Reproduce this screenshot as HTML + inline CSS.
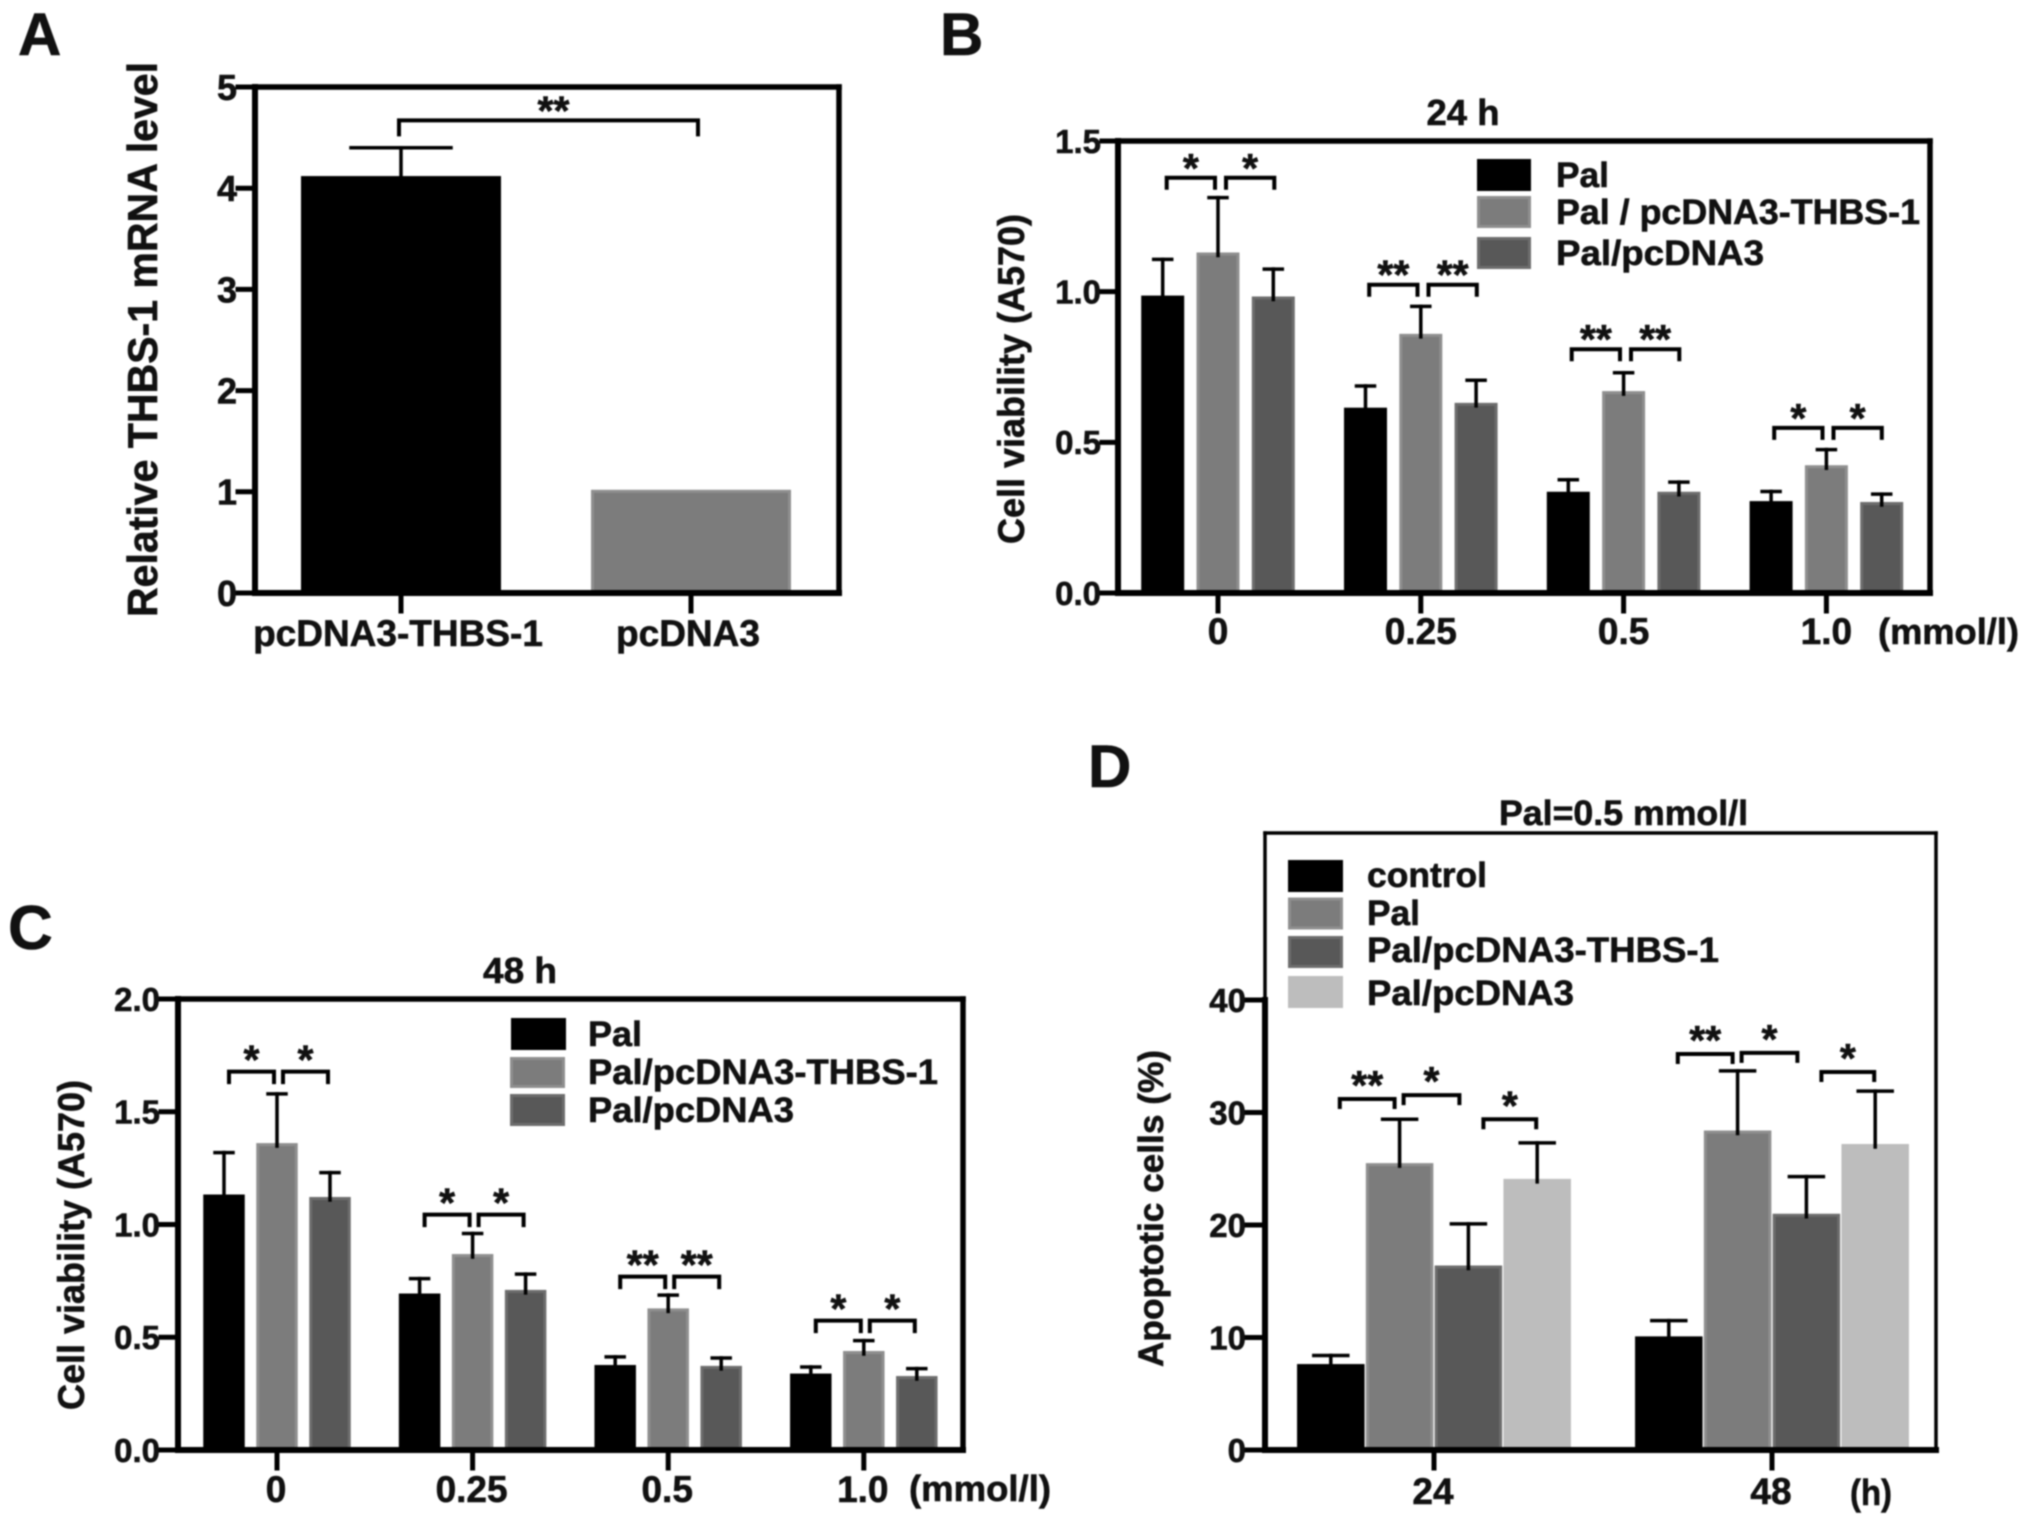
<!DOCTYPE html>
<html lang="en">
<head>
<meta charset="utf-8">
<title>THBS-1 figure panels</title>
<style>
html,body{margin:0;padding:0;background:#fff;width:2031px;height:1522px;overflow:hidden}
svg{display:block;filter:blur(.9px)}
text{font-family:"Liberation Sans",Arial,sans-serif;font-weight:bold;fill:#111;stroke:#111;stroke-width:.6px}
</style>
</head>
<body>
<svg id="figure" xmlns="http://www.w3.org/2000/svg" width="2031" height="1522" viewBox="0 0 2031 1522">
  <rect x="0" y="0" width="2031" height="1522" fill="#fff"/>

  <g id="panel-a">
    <text x="18" y="55" font-size="60">A</text>
    <text transform="translate(157,617) rotate(-90)" font-size="42" textLength="555" lengthAdjust="spacingAndGlyphs">Relative THBS-1 mRNA level</text>
  </g>

  <g id="panel-b">
    <text x="940" y="55" font-size="60">B</text>
    <text x="1463" y="125" font-size="36" text-anchor="middle" textLength="73" lengthAdjust="spacingAndGlyphs">24 h</text>
    <text transform="translate(1024,544) rotate(-90)" font-size="37" textLength="330" lengthAdjust="spacingAndGlyphs">Cell viability (A570)</text>
    <text x="1878" y="644" font-size="36" textLength="141" lengthAdjust="spacingAndGlyphs">(mmol/l)</text>
    <g transform="translate(-3,0)">
      <rect x="1480" y="159" width="54" height="32" fill="#000"/>
      <rect x="1481.5" y="197.5" width="51" height="29" fill="#7c7c7c" stroke="#8f8f8f" stroke-width="3"/>
      <rect x="1481.5" y="238.5" width="51" height="29" fill="#585858" stroke="#6d6d6d" stroke-width="3"/>
      <text x="1559" y="187" font-size="35" textLength="53" lengthAdjust="spacingAndGlyphs">Pal</text>
      <text x="1559" y="224" font-size="35" textLength="364" lengthAdjust="spacingAndGlyphs">Pal / pcDNA3-THBS-1</text>
      <text x="1559" y="265" font-size="35" textLength="208" lengthAdjust="spacingAndGlyphs">Pal/pcDNA3</text>
    </g>
  </g>

  <g id="panel-c">
    <text x="8" y="949" font-size="62">C</text>
    <text x="520" y="983" font-size="36" text-anchor="middle" textLength="74" lengthAdjust="spacingAndGlyphs">48 h</text>
    <text transform="translate(84,1410) rotate(-90)" font-size="37" textLength="330" lengthAdjust="spacingAndGlyphs">Cell viability (A570)</text>
    <text x="909" y="1501" font-size="36" textLength="142" lengthAdjust="spacingAndGlyphs">(mmol/l)</text>
    <g transform="translate(-2,0)">
      <rect x="513" y="1018" width="55" height="32" fill="#000"/>
      <rect x="513.5" y="1058.5" width="52" height="28" fill="#7c7c7c" stroke="#8f8f8f" stroke-width="3"/>
      <rect x="513.5" y="1095.5" width="52" height="29" fill="#585858" stroke="#6d6d6d" stroke-width="3"/>
      <text x="590" y="1046" font-size="35" textLength="54" lengthAdjust="spacingAndGlyphs">Pal</text>
      <text x="590" y="1084" font-size="35" textLength="350" lengthAdjust="spacingAndGlyphs">Pal/pcDNA3-THBS-1</text>
      <text x="590" y="1122" font-size="35" textLength="206" lengthAdjust="spacingAndGlyphs">Pal/pcDNA3</text>
    </g>
  </g>

  <g id="panel-d">
    <text x="1088" y="787" font-size="60">D</text>
    <text x="1499" y="825" font-size="35" textLength="249" lengthAdjust="spacingAndGlyphs">Pal=0.5 mmol/l</text>
    <text transform="translate(1163,1367) rotate(-90)" font-size="35" textLength="317" lengthAdjust="spacingAndGlyphs">Apoptotic cells (%)</text>
    <text x="1850" y="1505" font-size="36" textLength="42" lengthAdjust="spacingAndGlyphs">(h)</text>
    <g transform="translate(-2,0)">
      <rect x="1290" y="860" width="55" height="32" fill="#000"/>
      <rect x="1291.5" y="899" width="52" height="29" fill="#7c7c7c" stroke="#8f8f8f" stroke-width="3"/>
      <rect x="1291.5" y="937.5" width="52" height="29" fill="#585858" stroke="#6d6d6d" stroke-width="3"/>
      <rect x="1290" y="976" width="55" height="32" fill="#bdbdbd"/>
      <text x="1369" y="887" font-size="35" textLength="120" lengthAdjust="spacingAndGlyphs">control</text>
      <text x="1369" y="925" font-size="35" textLength="53" lengthAdjust="spacingAndGlyphs">Pal</text>
      <text x="1369" y="962" font-size="35" textLength="352" lengthAdjust="spacingAndGlyphs">Pal/pcDNA3-THBS-1</text>
      <text x="1369" y="1005" font-size="35" textLength="207" lengthAdjust="spacingAndGlyphs">Pal/pcDNA3</text>
    </g>
  </g>
</svg>

<script>
// ---- Panel A data ----
const aCategories = ['pcDNA3-THBS-1', 'pcDNA3'];
const aValues = [4.12, 1.02];
const aErrors = [0.28, 0];
const aYTicks = [0, 1, 2, 3, 4, 5];
const aBracketLevel = 4.67;
const aBracketLabel = '**';

// ---- Panel B data (24 h) ----
const bCategories = ['0', '0.25', '0.5', '1.0'];
const bPal = [0.987, 0.615, 0.336, 0.305];
const bPalThbs = [1.13, 0.86, 0.67, 0.424];
const bPalPc = [0.984, 0.631, 0.336, 0.302];
const bPalErr = [0.12, 0.072, 0.04, 0.032];
const bPalThbsErr = [0.182, 0.091, 0.061, 0.052];
const bPalPcErr = [0.091, 0.075, 0.032, 0.026];
const bYTicks = ['0.0', '0.5', '1.0', '1.5'];
const bBracketLevels = [[1.378, 1.378], [1.023, 1.023], [0.809, 0.809], [0.548, 0.548]];
const bBracketLabels = [['*', '*'], ['**', '**'], ['**', '**'], ['*', '*']];

// ---- Panel C data (48 h) ----
const cCategories = ['0', '0.25', '0.5', '1.0'];
const cPal = [1.133, 0.694, 0.377, 0.339];
const cPalThbs = [1.361, 0.869, 0.628, 0.439];
const cPalPc = [1.122, 0.71, 0.373, 0.328];
const cPalErr = [0.186, 0.066, 0.036, 0.029];
const cPalThbsErr = [0.218, 0.091, 0.059, 0.046];
const cPalPcErr = [0.108, 0.07, 0.035, 0.033];
const cYTicks = ['0.0', '0.5', '1.0', '1.5', '2.0'];
const cBracketLevels = [[1.678, 1.678], [1.044, 1.044], [0.769, 0.769], [0.574, 0.574]];
const cBracketLabels = [['*', '*'], ['*', '*'], ['**', '**'], ['*', '*']];

// ---- Panel D data (Pal = 0.5 mmol/l) ----
const dCategories = ['24', '48'];
const dControl = [7.64, 10.1];
const dPal = [25.5, 28.4];
const dPalThbs = [16.4, 21.0];
const dPalPc = [24.1, 27.2];
const dControlErr = [0.76, 1.4];
const dPalErr = [3.9, 5.3];
const dPalThbsErr = [3.7, 3.3];
const dPalPcErr = [3.2, 4.7];
const dYTicks = ['0', '10', '20', '30', '40'];
const dBracketLevels = [[31.2, 31.55, 29.4], [35.2, 35.3, 33.6]];
const dBracketLabels = [['**', '*', '*'], ['**', '*', '*']];

const SVGNS = 'http://www.w3.org/2000/svg';
const BLACK = {fill: '#000', edge: null};
const GRAY = {fill: '#7c7c7c', edge: '#8f8f8f'};
const DARK = {fill: '#585858', edge: '#6d6d6d'};
const LIGHT = {fill: '#bdbdbd', edge: null};

function make(parent, tag, props, name, content) {
  const el = document.createElementNS(SVGNS, tag);
  for (const k in props) el.setAttribute(k, props[k]);
  
  
  if (content !== undefined) el.textContent = content;
  parent.appendChild(el);
  return el;
}
function line(parent, x1, y1, x2, y2, w, name) {
  return make(parent, 'line', {x1: x1, y1: y1, x2: x2, y2: y2, stroke: '#000', 'stroke-width': w, 'stroke-linecap': 'square'}, name);
}

function drawPanel(p) {
  const root = document.getElementById(p.id);
  const yScale = v => p.yZero - (v / p.yMax) * (p.yZero - p.yMaxPx);
  const xScale = g => p.xFirst + g * p.xStep;
  const barCenter = (g, s) => xScale(g) + (s - (p.seriesCount - 1) / 2) * p.barStep;

  // bars first
  const bars = make(root, 'g', {}, 'bars-' + p.key);
  p.categories.forEach((cat, g) => {
    p.series.forEach((vals, s) => {
      const col = p.colors(g, s);
      const cx = barCenter(g, s), top = yScale(vals[g]);
      const inset = col.edge ? 1.5 : 0;
      const r = make(bars, 'rect', {
        x: cx - p.barWidth / 2 + inset, y: top + inset,
        width: p.barWidth - 2 * inset, height: Math.max(0, p.yZero - top - inset),
        fill: col.fill
      }, 'bar-' + p.key + '-' + g + '-' + s);
      if (col.edge) {
        r.setAttribute('stroke', col.edge);
        r.setAttribute('stroke-width', 3);
      }
    });
  });

  // error bars
  const errs = make(root, 'g', {}, 'error-bars-' + p.key);
  p.categories.forEach((cat, g) => {
    p.errors.forEach((vals, s) => {
      if (!vals[g]) return;
      const cx = barCenter(g, s), top = yScale(p.series[s][g]), hi = yScale(p.series[s][g] + vals[g]);
      line(errs, cx, top + 3, cx, hi, 3.5, 'error-stem-' + p.key + '-' + g + '-' + s);
      line(errs, cx - p.capWidth / 2, hi, cx + p.capWidth / 2, hi, 3.5, 'error-cap-' + p.key + '-' + g + '-' + s);
    });
  });

  // frame and axes
  const frame = make(root, 'g', {}, 'axes-' + p.key);
  const tw = p.topWidth;
  line(frame, p.xLeft, p.yTop, p.xRight, p.yTop, tw, 'frame-top-' + p.key);
  line(frame, p.xRight, p.yTop, p.xRight, p.yZero, tw, 'frame-right-' + p.key);
  if (p.yMaxPx !== p.yTop) line(frame, p.xLeft, p.yTop, p.xLeft, p.yMaxPx, tw, 'frame-left-upper-' + p.key);
  line(frame, p.xLeft, p.yMaxPx, p.xLeft, p.yZero, 6, 'y-axis-' + p.key);
  line(frame, p.xLeft, p.yZero, p.xRight, p.yZero, 6, 'x-axis-' + p.key);

  // y ticks
  p.yTicks.forEach(label => {
    const v = parseFloat(label), y = yScale(v);
    line(frame, p.tickLeft, y, p.xLeft, y, 5, 'y-tick-' + p.key + '-' + label);
    make(root, 'text', {x: p.tickLeft - 1, y: y + p.yFont * 0.358, 'font-size': p.yFont, 'text-anchor': 'end'}, 'y-tick-label-' + p.key + '-' + label, String(label));
  });

  // x ticks
  p.categories.forEach((cat, g) => {
    const x = xScale(g);
    line(frame, x, p.yZero, x, p.yZero + 18, 5, 'x-tick-' + p.key + '-' + g);
    make(root, 'text', {x: x + p.xLabelDx, y: p.xLabelY, 'font-size': p.xFont, 'text-anchor': 'middle'}, 'x-tick-label-' + p.key + '-' + g, cat);
  });

  // significance brackets
  const br = make(root, 'g', {}, 'brackets-' + p.key);
  p.brackets.forEach(b => {
    const y = yScale(b.level);
    make(br, 'path', {
      d: 'M' + b.x1 + ' ' + (y + p.drop) + 'V' + y + 'H' + b.x2 + 'V' + (y + p.drop),
      fill: 'none', stroke: '#000', 'stroke-width': 4
    }, 'significance-bracket-' + p.key);
    make(br, 'text', {x: (b.x1 + b.x2) / 2 + p.starDx, y: y + p.starOffset, 'font-size': 41, 'text-anchor': 'middle'}, 'significance-mark-' + p.key, b.label);
  });
}

function groupedBrackets(levels, labels, insets, first, step, barStep, count) {
  const out = [];
  levels.forEach((row, g) => row.forEach((level, i) => {
    const c = s => first + g * step + (s - (count - 1) / 2) * barStep;
    out.push({level: level, label: labels[g][i], x1: c(i) + insets[i][0], x2: c(i + 1) + insets[i][1]});
  }));
  return out;
}

drawPanel({
  id: 'panel-a', key: 'a', categories: aCategories,
  series: [aValues], errors: [aErrors], seriesCount: 1,
  colors: g => (g === 0 ? BLACK : GRAY),
  xLeft: 255, xRight: 839, yTop: 87, yZero: 593, yMaxPx: 87, yMax: 5, topWidth: 5.5,
  xFirst: 401, xStep: 290, barStep: 0, barWidth: 200, capWidth: 100,
  tickLeft: 238, yTicks: aYTicks, yFont: 36, xFont: 37, xLabelY: 646, xLabelDx: -3,
  drop: 16, starOffset: 4, starDx: 5,
  brackets: [{level: aBracketLevel, label: aBracketLabel, x1: 399, x2: 698}]
});

drawPanel({
  id: 'panel-b', key: 'b', categories: bCategories,
  series: [bPal, bPalThbs, bPalPc], errors: [bPalErr, bPalThbsErr, bPalPcErr], seriesCount: 3,
  colors: (g, s) => [BLACK, GRAY, DARK][s],
  xLeft: 1118, xRight: 1930, yTop: 141, yZero: 593, yMaxPx: 141, yMax: 1.5, topWidth: 5.5,
  xFirst: 1218, xStep: 202.8, barStep: 55.3, barWidth: 43, capWidth: 18,
  tickLeft: 1102, yTicks: bYTicks, yFont: 33, xFont: 37, xLabelY: 644, xLabelDx: 0,
  drop: 12, starOffset: 4, starDx: 0,
  brackets: groupedBrackets(bBracketLevels, bBracketLabels, [[4, -3], [8, 1]], 1218, 202.5, 55.3, 3)
});

drawPanel({
  id: 'panel-c', key: 'c', categories: cCategories,
  series: [cPal, cPalThbs, cPalPc], errors: [cPalErr, cPalThbsErr, cPalPcErr], seriesCount: 3,
  colors: (g, s) => [BLACK, GRAY, DARK][s],
  xLeft: 178, xRight: 963, yTop: 999, yZero: 1450, yMaxPx: 999, yMax: 2, topWidth: 5.5,
  xFirst: 277, xStep: 195.6, barStep: 53, barWidth: 41.5, capWidth: 18,
  tickLeft: 161, yTicks: cYTicks, yFont: 33, xFont: 37, xLabelY: 1502, xLabelDx: -1,
  drop: 12.5, starOffset: 2, starDx: 0,
  brackets: groupedBrackets(cBracketLevels, cBracketLabels, [[5, -3], [6, -2]], 277, 195.6, 53, 3)
});

drawPanel({
  id: 'panel-d', key: 'd', categories: dCategories,
  series: [dControl, dPal, dPalThbs, dPalPc], errors: [dControlErr, dPalErr, dPalThbsErr, dPalPcErr], seriesCount: 4,
  colors: (g, s) => [BLACK, GRAY, DARK, LIGHT][s],
  xLeft: 1265, xRight: 1936, yTop: 833, yZero: 1450, yMaxPx: 1000, yMax: 40, topWidth: 3.5,
  xFirst: 1434, xStep: 338, barStep: 68.8, barWidth: 67.5, capWidth: 34,
  tickLeft: 1247, yTicks: dYTicks, yFont: 33, xFont: 37, xLabelY: 1504, xLabelDx: -1,
  drop: 10, starOffset: 0, starDx: 0,
  brackets: groupedBrackets(dBracketLevels, dBracketLabels, [[9, -5], [4, -9], [15, -1]], 1434, 338, 68.8, 4)
});
</script>
</body>
</html>
